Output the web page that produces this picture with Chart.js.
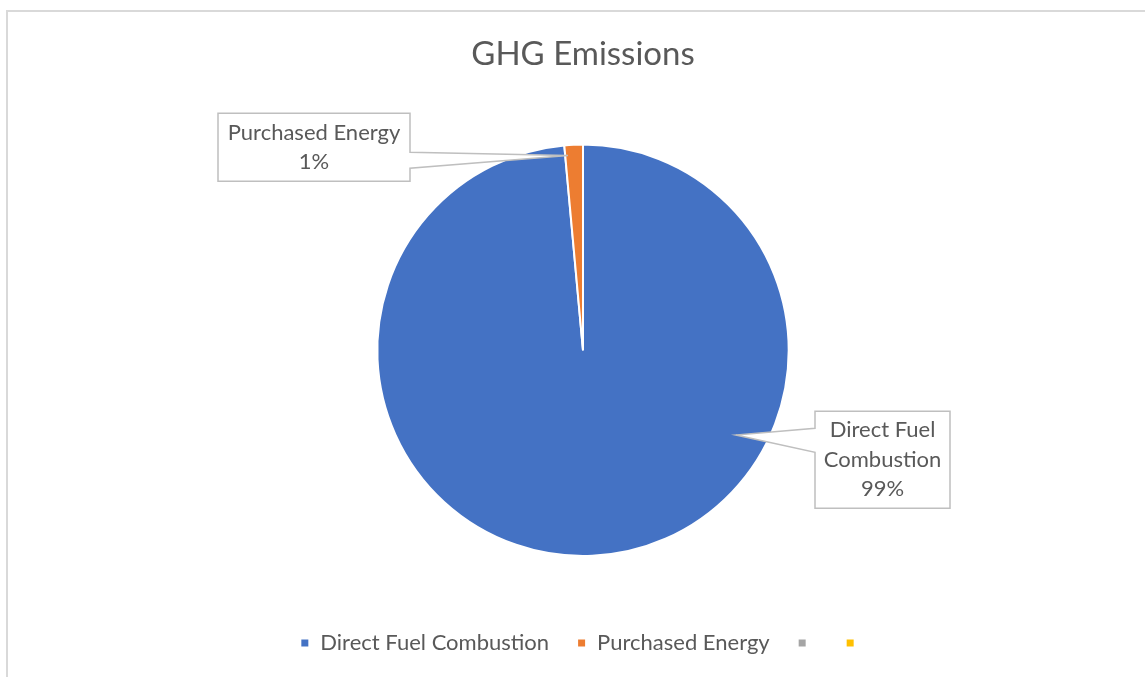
<!DOCTYPE html>
<html>
<head>
<meta charset="utf-8">
<title>GHG Emissions</title>
<script src="https://cdn.jsdelivr.net/npm/chart.js@4.4.1/dist/chart.umd.min.js"></script>
<style>
	html, body { margin: 0; padding: 0; background: #fff; }
	#wrap { position: relative; width: 1145px; height: 677px; }
</style>
</head>
<body>
<div id="wrap"><canvas id="ghg-chart"></canvas></div>
<script>
// Chart data
const chartTitle = 'GHG Emissions';
const categories = [ 'Direct Fuel Combustion', 'Purchased Energy', '', '' ];
const emissionShares = [ 98.55, 1.45, 0, 0 ];
const sliceColors = [ '#4472c4', '#ed7d31', '#a5a5a5', '#ffc000' ];

// Callout label text lines per slice (percent is appended from the data)
const calloutLines = [ [ 'Direct Fuel', 'Combustion' ], [ 'Purchased Energy' ] ];

const textColor = '#595959';
const fontFamily = 'Lato, "Open Sans", sans-serif';

// Light frame around the chart area, like the office chart border
const framePlugin = {
	id: 'frame',
	beforeDraw( chart ) {
		const { ctx, width, height } = chart;
		ctx.save();
		ctx.strokeStyle = '#d9d9d9';
		ctx.lineWidth = 2;
		ctx.beginPath();
		ctx.moveTo( 7, height );
		ctx.lineTo( 7, 11 );
		ctx.lineTo( width, 11 );
		ctx.stroke();
		ctx.restore();
	},
};

// Boxed data labels with a pointer towards the slice
const calloutPlugin = {
	id: 'callouts',
	afterDatasetsDraw( chart, args, opts ) {
		const ctx = chart.ctx;
		const meta = chart.getDatasetMeta( 0 );
		const total = emissionShares.reduce( ( a, b ) => a + b, 0 );

		opts.items.forEach( ( item ) => {
			const arc = meta.data[ item.index ];
			const { x: cx, y: cy, outerRadius } = arc.getProps(
				[ 'x', 'y', 'outerRadius' ],
				true
			);
			const ang = ( item.tipAngle * Math.PI ) / 180;
			const tipX = cx + Math.cos( ang ) * outerRadius * item.tipDepth;
			const tipY = cy + Math.sin( ang ) * outerRadius * item.tipDepth;

			const left = cx + item.dx;
			const top = cy + item.dy;
			const right = left + item.w;
			const bottom = top + item.h;

			ctx.save();
			ctx.beginPath();
			ctx.moveTo( left, top );
			ctx.lineTo( right, top );
			if ( item.side === 'right' ) {
				ctx.lineTo( right, top + item.wedge[ 0 ] );
				ctx.lineTo( tipX, tipY );
				ctx.lineTo( right, top + item.wedge[ 1 ] );
			}
			ctx.lineTo( right, bottom );
			ctx.lineTo( left, bottom );
			if ( item.side === 'left' ) {
				ctx.lineTo( left, top + item.wedge[ 1 ] );
				ctx.lineTo( tipX, tipY );
				ctx.lineTo( left, top + item.wedge[ 0 ] );
			}
			ctx.closePath();
			ctx.fillStyle = '#ffffff';
			ctx.fill();
			ctx.strokeStyle = '#bfbfbf';
			ctx.lineWidth = 1.5;
			ctx.stroke();

			const pct = Math.round( ( emissionShares[ item.index ] / total ) * 100 ) + '%';
			const lines = calloutLines[ item.index ].concat( [ pct ] );
			ctx.fillStyle = textColor;
			ctx.font = '22px ' + fontFamily;
			ctx.textAlign = 'center';
			ctx.textBaseline = 'middle';
			const lineH = 29.5;
			const startY = top + item.h / 2 - ( ( lines.length - 1 ) * lineH ) / 2;
			lines.forEach( ( line, i ) => {
				ctx.fillText( line, left + item.w / 2, startY + i * lineH );
			} );
			ctx.restore();
		} );
	},
};

const ctx = document.getElementById( 'ghg-chart' ).getContext( '2d' );
new Chart( ctx, {
	type: 'pie',
	data: {
		labels: categories,
		datasets: [
			{
				data: emissionShares,
				backgroundColor: sliceColors,
				borderColor: '#ffffff',
				borderWidth: 2,
			},
		],
	},
	options: {
		responsive: true,
		maintainAspectRatio: false,
		animation: false,
		layout: {
			padding: { left: 21, right: 0, top: 0, bottom: 13 },
		},
		plugins: {
			title: {
				display: true,
				text: chartTitle,
				color: textColor,
				font: { family: fontFamily, size: 33, weight: 'normal' },
				padding: { top: 35, bottom: 69 },
			},
			legend: {
				position: 'bottom',
				// empty title only used as spacing above the legend row
				title: {
					display: true,
					text: '',
					font: { size: 10 },
					padding: { top: 35, bottom: 0 },
				},
				labels: {
					color: textColor,
					font: { family: fontFamily, size: 22 },
					boxWidth: 9,
					boxHeight: 9,
					padding: 28,
				},
			},
			tooltip: { enabled: false },
			callouts: {
				items: [
					{
						index: 1,
						tipAngle: -94.4,
						tipDepth: 0.95,
						dx: -365,
						dy: -237,
						w: 192,
						h: 68,
						side: 'right',
						wedge: [ 39, 55 ],
					},
					{
						index: 0,
						tipAngle: 29,
						tipDepth: 0.85,
						dx: 232,
						dy: 61,
						w: 135,
						h: 97,
						side: 'left',
						wedge: [ 17, 41 ],
					},
				],
			},
		},
	},
	plugins: [ framePlugin, calloutPlugin ],
} );
</script>
</body>
</html>
